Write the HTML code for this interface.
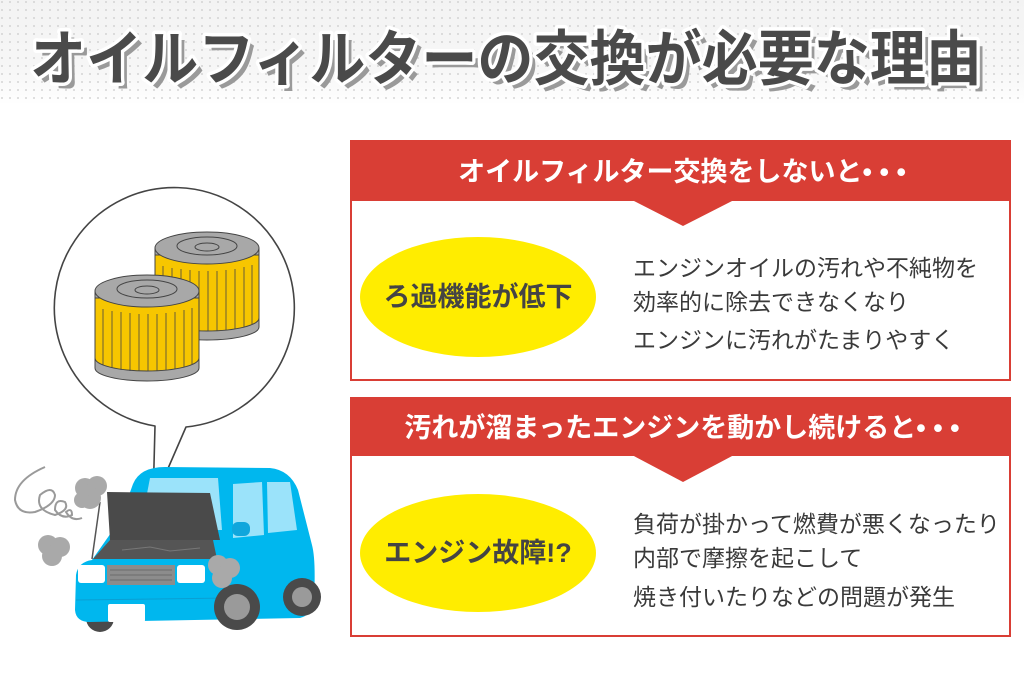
<!DOCTYPE html>
<html><head><meta charset="utf-8"><style>
html,body{margin:0;padding:0;background:#fff;}
svg{display:block;}
text{font-family:"Liberation Sans","Noto Sans CJK JP",sans-serif;}
</style></head><body>
<svg width="1024" height="683" viewBox="0 0 1024 683" xmlns="http://www.w3.org/2000/svg">
<defs>
<pattern id="dots" width="8" height="8" patternUnits="userSpaceOnUse"><circle cx="2" cy="2" r="0.9" fill="#c9c9c9"/></pattern>
<linearGradient id="fade" x1="0" y1="0" x2="0" y2="1"><stop offset="0" stop-color="#f3f3f3"/><stop offset="0.7" stop-color="#f7f7f7"/><stop offset="1" stop-color="#fff"/></linearGradient>
</defs>
<rect width="1024" height="683" fill="#fff"/>
<rect width="1024" height="105" fill="url(#fade)"/>
<rect width="1024" height="100" fill="url(#dots)"/>
<!-- title -->
<text x="36" y="86" font-size="60" font-weight="bold" fill="#9a9a9a" textLength="952" lengthAdjust="spacingAndGlyphs">オイルフィルターの交換が必要な理由</text>
<text x="30" y="80" font-size="60" font-weight="bold" fill="#4a4a4a" stroke="#fff" stroke-width="7" stroke-linejoin="round" paint-order="stroke" textLength="952" lengthAdjust="spacingAndGlyphs">オイルフィルターの交換が必要な理由</text>

<!-- box 1 -->
<rect x="351" y="141" width="659" height="239" fill="#fff" stroke="#d93e35" stroke-width="2"/>
<rect x="351" y="141" width="659" height="60" fill="#d93e35"/>
<polygon points="632,200 734,200 683,226" fill="#d93e35"/>
<text x="682" y="181" font-size="27" font-weight="bold" fill="#fff" text-anchor="middle">オイルフィルター交換をしないと• • •</text>
<ellipse cx="478" cy="297" rx="118" ry="60" fill="#ffed00"/>
<text x="478" y="306" font-size="27" font-weight="bold" fill="#444" text-anchor="middle">ろ過機能が低下</text>
<text x="633" y="276" font-size="23" fill="#3a3a3a">エンジンオイルの汚れや不純物を</text>
<text x="633" y="310" font-size="23" fill="#3a3a3a">効率的に除去できなくなり</text>
<text x="633" y="348" font-size="23" fill="#3a3a3a">エンジンに汚れがたまりやすく</text>

<!-- box 2 -->
<rect x="351" y="398" width="659" height="238" fill="#fff" stroke="#d93e35" stroke-width="2"/>
<rect x="351" y="398" width="659" height="58" fill="#d93e35"/>
<polygon points="632,455 734,455 683,482" fill="#d93e35"/>
<text x="682" y="437" font-size="27" font-weight="bold" fill="#fff" text-anchor="middle">汚れが溜まったエンジンを動かし続けると• • •</text>
<ellipse cx="478" cy="553" rx="118" ry="59" fill="#ffed00"/>
<text x="478" y="562" font-size="27" font-weight="bold" fill="#444" text-anchor="middle">エンジン故障!?</text>
<text x="633" y="532" font-size="23" fill="#3a3a3a">負荷が掛かって燃費が悪くなったり</text>
<text x="633" y="566" font-size="23" fill="#3a3a3a">内部で摩擦を起こして</text>
<text x="633" y="605" font-size="23" fill="#3a3a3a">焼き付いたりなどの問題が発生</text>

<!-- speech bubble -->
<path d="M155,426 A120,120 0 1 1 186,427 L153,503 Z" fill="#fff" stroke="#444" stroke-width="1.6" stroke-linejoin="round"/>
<!-- back filter -->
<g stroke="#444" stroke-width="1">
<path d="M155,248 L155,327 A52,13 0 0 0 259,327 L259,248 Z" fill="#a8a8a8"/>
<path d="M155,255 L155,318 A52,13 0 0 0 259,318 L259,255 Z" fill="#f7c600"/>
<ellipse cx="207" cy="248" rx="52" ry="16" fill="#a8a8a8"/>
<ellipse cx="207" cy="246" rx="30" ry="9" fill="none"/>
<ellipse cx="207" cy="247" rx="12" ry="4" fill="none"/>
<g stroke-width="0.8">
<line x1="163" y1="266" x2="163" y2="325"/><line x1="172" y1="268" x2="172" y2="328"/><line x1="181" y1="269" x2="181" y2="330"/><line x1="190" y1="270" x2="190" y2="331"/><line x1="199" y1="271" x2="199" y2="331"/><line x1="208" y1="271" x2="208" y2="331"/><line x1="217" y1="271" x2="217" y2="331"/><line x1="226" y1="270" x2="226" y2="330"/><line x1="235" y1="269" x2="235" y2="329"/><line x1="244" y1="267" x2="244" y2="327"/><line x1="252" y1="265" x2="252" y2="324"/>
</g>
</g>
<!-- front filter -->
<g stroke="#444" stroke-width="1">
<path d="M95,291 L95,368 A52,13 0 0 0 199,368 L199,291 Z" fill="#a8a8a8"/>
<path d="M95,298 L95,358 A52,13 0 0 0 199,358 L199,298 Z" fill="#f7c600"/>
<ellipse cx="147" cy="291" rx="52" ry="16" fill="#a8a8a8"/>
<ellipse cx="147" cy="289" rx="30" ry="9" fill="none"/>
<ellipse cx="147" cy="290" rx="12" ry="4" fill="none"/>
<g stroke-width="0.8">
<line x1="103" y1="309" x2="103" y2="365"/><line x1="112" y1="311" x2="112" y2="368"/><line x1="121" y1="312" x2="121" y2="370"/><line x1="130" y1="313" x2="130" y2="371"/><line x1="139" y1="314" x2="139" y2="371"/><line x1="148" y1="314" x2="148" y2="371"/><line x1="157" y1="314" x2="157" y2="371"/><line x1="166" y1="313" x2="166" y2="370"/><line x1="175" y1="312" x2="175" y2="369"/><line x1="184" y1="310" x2="184" y2="367"/><line x1="192" y1="308" x2="192" y2="364"/>
</g>
</g>

<!-- car -->
<g>
<circle cx="100" cy="618" r="14" fill="#4a4a4a"/>
<path d="M133,484 Q140,467 165,467 L270,468 Q290,470 298,490 L312,545 Q316,560 314,600 Q312,615 300,618 L90,622 Q76,622 75,610 L76,575 Q78,562 92,560 L120,520 Z" fill="#00b7ee"/>
<path d="M233,484 L262,482 L264,535 L233,538 Z" fill="#9be3fa"/>
<path d="M267,482 L290,482 L297,530 L268,533 Z" fill="#9be3fa"/>
<path d="M150,478 L218,478 L222,530 L140,530 Z" fill="#9be3fa"/>
<rect x="232" y="522" width="18" height="14" rx="6" fill="#10a6dc"/>
<line x1="76" y1="600" x2="230" y2="598" stroke="#0a9fd3" stroke-width="1"/>
<circle cx="237" cy="607" r="23" fill="#4a4a4a"/><circle cx="237" cy="607" r="13" fill="#9a9a9a"/>
<circle cx="302" cy="597" r="19" fill="#4a4a4a"/><circle cx="302" cy="597" r="10" fill="#9a9a9a"/>
<path d="M110,540 L213,540 L217,559 L93,559 Z" fill="#555"/>
<path d="M122,550 L150,547 L170,551 L200,548" stroke="#777" fill="none"/>
<path d="M107,492 L210,493 L220,540 L110,540 Z" fill="#4a4a4a"/>
<line x1="100" y1="502" x2="92" y2="559" stroke="#555" stroke-width="1.5"/>
<rect x="78" y="565" width="27" height="18" rx="3" fill="#fff"/>
<rect x="177" y="565" width="28" height="18" rx="3" fill="#fff"/>
<rect x="107" y="565" width="68" height="20" fill="#8c8c8c"/>
<g stroke="#6c6c6c"><line x1="110" y1="570" x2="172" y2="570"/><line x1="110" y1="575" x2="172" y2="575"/><line x1="110" y1="580" x2="172" y2="580"/></g>
<rect x="108" y="604" width="37" height="18" rx="2" fill="#fff"/>
</g>
<!-- smoke -->
<g fill="#a9a9a9">
<circle cx="85" cy="488" r="10"/><circle cx="97" cy="486" r="10"/><circle cx="90" cy="498" r="11"/><circle cx="82" cy="500" r="8"/>
<circle cx="48" cy="545" r="10"/><circle cx="60" cy="547" r="10"/><circle cx="52" cy="556" r="10"/>
<circle cx="218" cy="565" r="10"/><circle cx="230" cy="568" r="10"/><circle cx="222" cy="578" r="10"/>
</g>
<path d="M45,467 Q15,480 15,500 Q18,515 35,512 Q55,505 55,495 Q52,485 40,495 Q35,510 55,515 Q70,510 65,502 Q55,498 55,510 Q62,520 72,515 Q72,507 66,512 Q72,522 82,518" fill="none" stroke="#9a9a9a" stroke-width="2"/>
</svg>
</body></html>
